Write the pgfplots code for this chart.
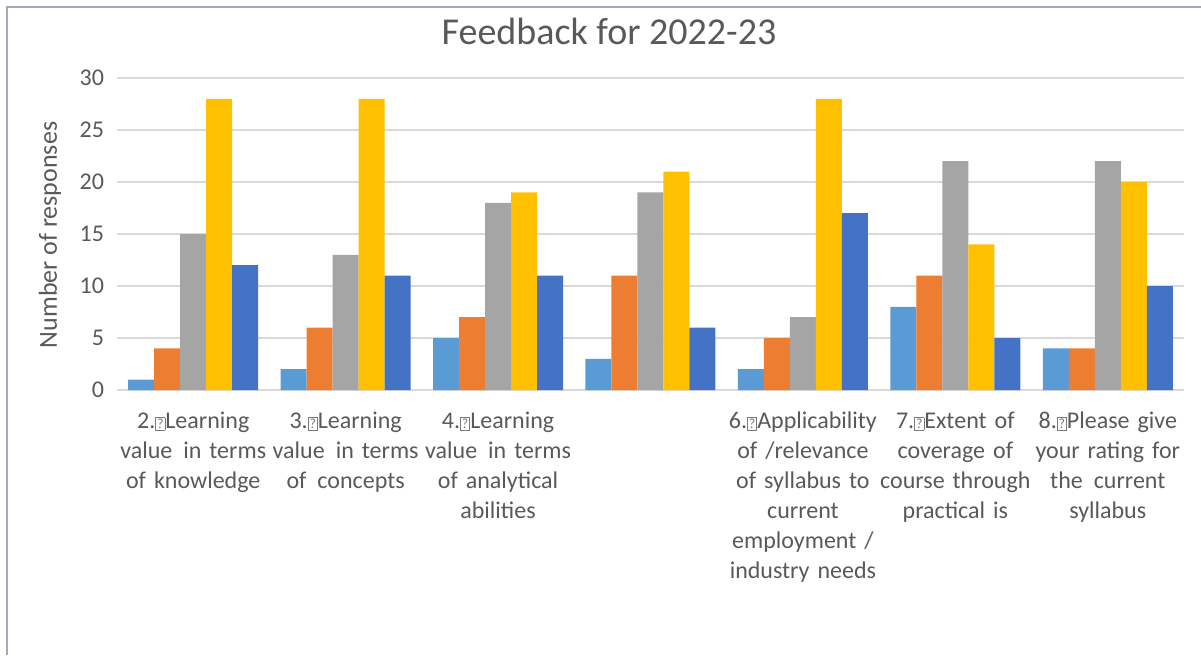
\documentclass[border=0pt]{standalone}
\usepackage{fontspec}
\setmainfont{Carlito}
\usepackage{pgfplots}
\pgfplotsset{compat=1.18}
\definecolor{c1}{HTML}{5B9BD5}
\definecolor{c2}{HTML}{ED7D31}
\definecolor{c3}{HTML}{A5A5A5}
\definecolor{c4}{HTML}{FFC000}
\definecolor{c5}{HTML}{4472C4}
\definecolor{txt}{HTML}{595959}
\definecolor{gridc}{HTML}{D9D9D9}
\definecolor{framec}{HTML}{A3ABBA}
\newcommand\qb{{\fboxsep=0.5pt\fboxrule=0.4pt\color{txt!80}\fbox{\fontsize{7}{7}\selectfont ?}}}
\newcommand\dsp{\ \kern1.5pt}
\begin{document}
\begin{tikzpicture}
\path[use as bounding box] (0,0) rectangle (600.5pt,-327.5pt);
\draw[color=framec, line width=1.2pt] (3.6pt,-327.5pt) -- (3.6pt,-3.6pt) -- (600.5pt,-3.6pt);
\node[text=txt, font=\fontsize{19}{22}\selectfont] at (304.5pt,-15.5pt) {Feedback for 2022-23};
\node[text=txt, font=\fontsize{13}{15}\selectfont, rotate=90] at (25pt,-117.5pt) {Number of responses};
\begin{axis}[
  at={(58.5pt,-195pt)}, anchor=south west,
  scale only axis, width=533.5pt, height=156pt,
  ybar=0pt, bar width=13pt,
  ymin=0, ymax=30, xmin=-0.5, xmax=6.5,
  ytick={0,5,...,30}, xtick={0,...,6},
  xticklabels={
    {2.\qb Learning\\value\dsp in terms\\of knowledge},
    {3.\qb Learning\\value\dsp in terms\\of\dsp concepts},
    {4.\qb Learning\\value\dsp in terms\\of analytical\\abilities},
    {},
    {6.\qb Applicability\\of /relevance\\of syllabus to\\current\\employment /\\industry needs},
    {7.\qb Extent of\\coverage of\\course through\\practical is},
    {8.\qb Please give\\your rating for\\the\dsp current\\syllabus}},
  axis line style={draw=none},
  major tick length=0pt,
  ymajorgrids, grid style={color=gridc, line width=0.8pt},
  /pgf/number format/assume math mode=true,
  tick label style={font=\fontsize{12}{15}\selectfont, text=txt},
  xticklabel style={align=center, text width=80pt, yshift=-7.5pt},
  yticklabel style={xshift=-3pt},
  every axis plot/.append style={draw=none},
]
\addplot[fill=c1] coordinates {(0,1) (1,2) (2,5) (3,3) (4,2) (5,8) (6,4)};
\addplot[fill=c2] coordinates {(0,4) (1,6) (2,7) (3,11) (4,5) (5,11) (6,4)};
\addplot[fill=c3] coordinates {(0,15) (1,13) (2,18) (3,19) (4,7) (5,22) (6,22)};
\addplot[fill=c4] coordinates {(0,28) (1,28) (2,19) (3,21) (4,28) (5,14) (6,20)};
\addplot[fill=c5] coordinates {(0,12) (1,11) (2,11) (3,6) (4,17) (5,5) (6,10)};
\end{axis}
\end{tikzpicture}
\end{document}
